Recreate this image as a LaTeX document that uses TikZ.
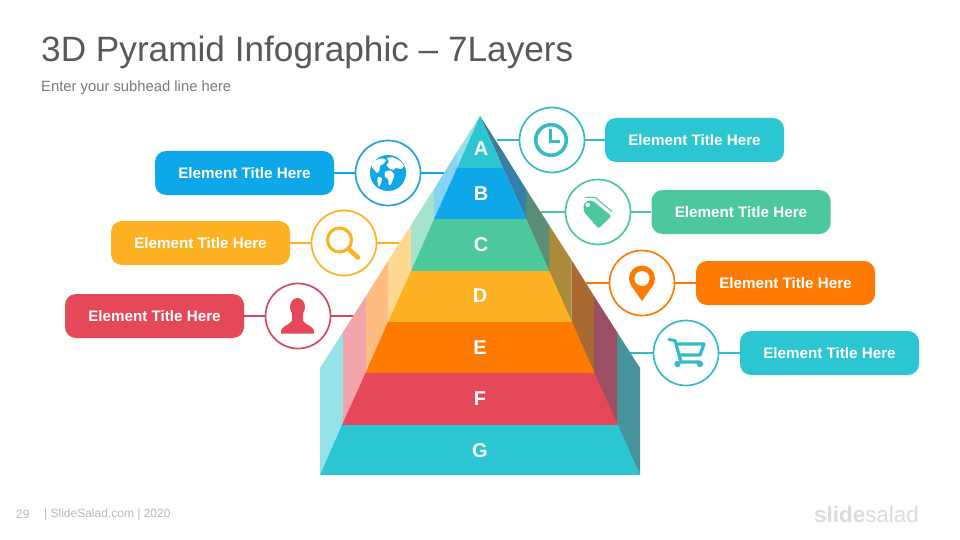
\documentclass[tikz,border=0pt]{standalone}
\usepackage{fontspec}
\setmainfont{Liberation Sans}
\definecolor{cteal}{HTML}{2CC5D2}
\definecolor{cblue}{HTML}{0EA7E9}
\definecolor{cgreen}{HTML}{4DC89C}
\definecolor{cyellow}{HTML}{FEB122}
\definecolor{corange}{HTML}{FE7A03}
\definecolor{cred}{HTML}{E54859}
\definecolor{rteal}{HTML}{35BBC8}
\definecolor{rblue}{HTML}{27A0DC}
\definecolor{rred}{HTML}{D24A60}
\tikzset{
  x=1pt,y=-1pt,
  titlebox/.style={fill=#1,rounded corners=11pt,minimum width=179pt,minimum height=44pt,inner sep=0pt,text=white,font=\fontsize{15.2}{15.2}\selectfont\bfseries},
  iconring/.style={draw=#1,fill=white,line width=1.7pt,circle,minimum size=65pt,inner sep=0pt},
  link/.style={draw=#1,line width=2pt},
  band/.style={fill=#1},
  letter/.style={text=white,inner sep=0pt,font=\fontsize{20}{20}\selectfont\bfseries},
  footertext/.style={text=black!28,inner sep=0pt,anchor=west,font=\fontsize{12}{12}\selectfont}
}
\begin{document}
\begin{tikzpicture}
\useasboundingbox[fill=white] (0,0) rectangle (960,540);
\node[anchor=west,inner sep=0pt,text=black!65,font=\fontsize{35.2}{35.2}\selectfont] (title) at (41,52.5) {3D Pyramid Infographic – 7Layers};
\node[anchor=west,inner sep=0pt,text=black!52,font=\fontsize{14.8}{14.8}\selectfont] (sub) at (41,87.5) {Enter your subhead line here};
% edge anchors
\coordinate (eb) at (444,173);
\coordinate (ey) at (399,243);
\coordinate (er) at (354,316);
\coordinate (ea) at (497,140);
\coordinate (ec) at (541,212);
\coordinate (ed) at (586,283);
\coordinate (ee) at (630,353);
% boxes and rings
\node[titlebox=cblue] (bb) at (244.5,173) {Element Title Here};
\node[titlebox=cyellow] (by) at (200.5,243) {Element Title Here};
\node[titlebox=cred] (br) at (154.5,316) {Element Title Here};
\node[titlebox=cteal] (ba) at (694.5,140) {Element Title Here};
\node[titlebox=cgreen] (bc) at (741,212) {Element Title Here};
\node[titlebox=corange] (bd) at (785.5,283) {Element Title Here};
\node[titlebox=cteal] (be) at (829.5,353) {Element Title Here};
\draw[link=cblue] (bb) -- (388,173) -- (eb);
\draw[link=cyellow] (by) -- (344,243) -- (ey);
\draw[link=rred] (br) -- (298,316) -- (er);
\draw[link=rteal] (ba) -- (552,140) -- (ea);
\draw[link=cgreen] (bc) -- (598,212) -- (ec);
\draw[link=corange] (bd) -- (642,283) -- (ed);
\draw[link=rteal] (be) -- (686,353) -- (ee);
\node[iconring=rblue] (rb) at (388,173) {};
\node[iconring=cyellow] (ry) at (344,243) {};
\node[iconring=rred] (rr) at (298,316) {};
\node[iconring=rteal] (ra) at (552,140) {};
\node[iconring=cgreen] (rc) at (598,212) {};
\node[iconring=corange] (rd) at (642,283) {};
\node[iconring=rteal] (re) at (686,353) {};
% left faces
\fill[cteal!50!white] (320,475)--(320,368)--(343,332)--(343,425)--cycle;
\fill[cred!50!white] (343,425)--(343,332)--(366,296)--(366,373)--cycle;
\fill[corange!50!white] (366,373)--(366,296)--(388.5,260)--(388.5,322)--cycle;
\fill[cyellow!50!white] (388.5,322)--(388.5,260)--(411,225)--(411,271)--cycle;
\fill[cgreen!50!white] (411,271)--(411,225)--(434,189)--(434,219)--cycle;
\fill[cblue!50!white] (434,219)--(434,189)--(457,152)--(457,168)--cycle;
\fill[cteal!50!white] (457,168)--(457,152)--(480,116)--cycle;
% right faces
\fill[fill={rgb,255:red,70;green,147;blue,156}] (640,475)--(640,368)--(617,332)--(617,425)--cycle;
\fill[fill={rgb,255:red,156;green,79;blue,98}] (617,425)--(617,332)--(594,296)--(594,373)--cycle;
\fill[fill={rgb,255:red,168;green,106;blue,48}] (594,373)--(594,296)--(571.5,260)--(571.5,322)--cycle;
\fill[fill={rgb,255:red,171;green,138;blue,59}] (571.5,322)--(571.5,260)--(549,225)--(549,271)--cycle;
\fill[fill={rgb,255:red,91;green,142;blue,120}] (549,271)--(549,225)--(526,189)--(526,219)--cycle;
\fill[fill={rgb,255:red,51;green,128;blue,168}] (526,219)--(526,189)--(503,152)--(503,168)--cycle;
\fill[fill={rgb,255:red,58;green,127;blue,143}] (503,168)--(503,152)--(480,116)--cycle;
% front bands
\fill[band=cteal] (480,116)--(503,168)--(457,168)--cycle;
\fill[band=cblue] (457,168)--(503,168)--(526,219)--(434,219)--cycle;
\fill[band=cgreen] (434,219)--(526,219)--(549,271)--(411,271)--cycle;
\fill[band=cyellow] (411,271)--(549,271)--(572,322)--(388,322)--cycle;
\fill[band=corange] (388,322)--(572,322)--(594.5,373)--(365.5,373)--cycle;
\fill[band=cred] (365.5,373)--(594.5,373)--(618,425)--(342,425)--cycle;
\fill[band=cteal] (342,425)--(618,425)--(640,475)--(320,475)--cycle;
\node[letter] (la) at (481,149) {A};
\node[letter] (lb) at (481,194) {B};
\node[letter] (lc) at (481,245) {C};
\node[letter] (ld) at (480,296) {D};
\node[letter] (le) at (480,348) {E};
\node[letter] (lf) at (480,399) {F};
\node[letter] (lg) at (480,451) {G};
% icons: globe
\fill[cblue] (388,173) circle (18);
\fill[white] plot[smooth cycle,tension=.5] coordinates {(376,160)(383,158.5)(386,160.5)(383,164)(380,166)(379.5,170)(377,173)(373.5,169)(371.5,166)};
\fill[white] plot[smooth cycle,tension=.5] coordinates {(387,158)(393,157.5)(400,161)(404,166)(401,169)(396,168)(393,170)(389,168)(386.5,165)(389,162)};
\fill[white] plot[smooth cycle,tension=.5] coordinates {(385,172)(390,170.5)(394,174)(393.5,178)(391,184)(389,185)(388,179)(385,177)};
\fill[white] plot[smooth cycle,tension=.5] coordinates {(378,177)(382,178.5)(380.5,184)(379,187)(377.5,182)};
% magnifier
\draw[cyellow,line width=3.2pt] (339.5,240) circle (12);
\draw[cyellow,line width=4.5pt,line cap=round] (349,249.5)--(358,257.5);
% person
\fill[cred] (297.5,307) ellipse (7.5 and 9);
\fill[cred] (281,333.5) .. controls (280.5,325) and (288,326.5) .. (292,321) -- (292,312) -- (303,312) -- (303,321) .. controls (307,326.5) and (314.5,325) .. (314,333.5) -- cycle;
% clock
\draw[rteal,line width=3.6pt] (551,140) circle (15.3);
\draw[rteal,line width=3pt] (550.7,129)--(550.7,141.5)--(559.5,141.5);
% tag
\fill[cgreen,rounded corners=1.5pt] (583.5,204.5)--(588,200.5)--(593,201)--(611.5,216)--(598.5,228.5)--(584,212)--cycle;
\fill[white] (587.7,205) circle (2.2);
\draw[cgreen,line width=1.1pt] (584.5,197.3)--(595,197.3)--(612,211.5);
% pin
\fill[corange] (642,278.5) circle (13);
\fill[corange] (630.5,284.5) -- (642,301) -- (653.5,284.5) -- cycle;
\fill[white] (642,278.5) circle (7.5);
% cart
\draw[rteal,line width=3.2pt,line join=round,line cap=round] (669,339.5)--(675,340.5)--(681,362)--(700,362);
\draw[rteal,line width=3.2pt,line join=round] (676.5,344)--(704,344)--(700,355)--(680,355);
\fill[rteal] (677.5,364) circle (3.2) (700,364) circle (3.2);
% footer
\node[footertext] (pg) at (16,514.5) {29};
\node[footertext] (ft) at (44,514.5) {| SlideSalad.com | 2020};
\node[anchor=west,inner sep=0pt,text=black!14,font=\fontsize{22.4}{22.4}\selectfont] (logo) at (814,514.5) {\textbf{slide}salad};
\end{tikzpicture}
\end{document}
